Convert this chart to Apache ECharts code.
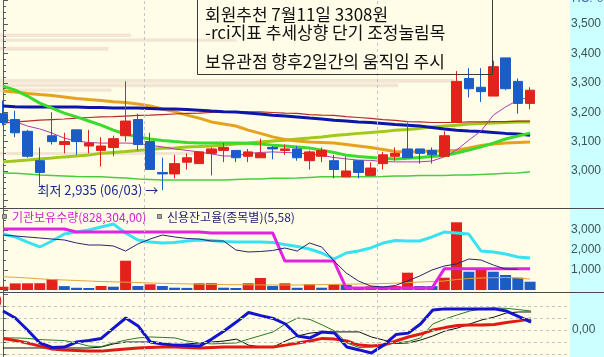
<!DOCTYPE html>
<html>
<head>
<meta charset="utf-8">
<script src="https://cdn.jsdelivr.net/npm/echarts@6/dist/echarts.min.js"></script>
<style>
html,body{margin:0;padding:0;background:#FFFDE8;}
#chart{width:604px;height:357px;}
</style>
</head>
<body>
<div id="chart"></div>
<script>
// ---------------- data ----------------
const opens  = [3195,3175,3135,3035,3120,3090,3140,3085,3070,3080,3120,3175,3100,2995,2990,3030,3025,3060,3070,3070,3050,3045,3080,3070,3075,3035,3050,3035,2980,3035,2985,3025,3050,3075,3075,3070,3050,3165,3315,3285,3255,3385,3305,3230];
const closes = [3165,3130,3050,2995,3100,3100,3100,3095,3085,3110,3170,3090,3005,2990,3025,3045,3065,3075,3080,3045,3065,3060,3075,3075,3045,3065,3070,3005,3000,2995,3010,3055,3060,3045,3060,3055,3120,3305,3280,3270,3355,3280,3230,3275];
const lows   = [3155,3115,3045,2950,3090,3060,3055,3060,3015,3050,3100,3070,3005,2935,2975,3005,3025,2985,3030,3030,3030,3045,3040,3055,3035,3005,3030,2975,2980,2975,2985,3005,3035,3045,3025,3025,3050,3165,3250,3235,3255,3275,3195,3210];
const highs  = [3240,3205,3140,3080,3200,3130,3140,3140,3115,3120,3305,3195,3130,3045,3055,3060,3065,3080,3095,3070,3075,3110,3085,3090,3085,3070,3080,3055,3050,3035,3030,3065,3080,3165,3075,3080,3135,3340,3350,3350,3375,3385,3315,3285];
const volumes = [165,330,335,340,550,195,110,100,200,165,1465,200,285,200,115,105,335,340,115,100,335,600,200,335,110,285,115,285,250,150,180,160,200,865,200,195,615,3385,915,1050,915,750,615,415];

// price moving averages
const maGreen   = [3289,3275,3255,3231,3214,3197,3184,3170,3156,3139,3126,3116,3109,3104,3100,3097,3095,3095,3095,3095,3094,3092,3088,3085,3082,3078,3071,3063,3054,3049,3046,3043,3041,3043,3046,3049,3053,3061,3071,3082,3095,3109,3119,3129];
const maOrange  = [3272,3269,3264,3260,3257,3252,3247,3243,3240,3236,3233,3228,3221,3211,3202,3190,3180,3167,3160,3153,3139,3128,3116,3107,3102,3099,3097,3095,3090,3085,3080,3073,3066,3065,3066,3068,3068,3071,3078,3087,3092,3095,3097,3099];
const maOlive   = [3031,3034,3037,3041,3044,3048,3051,3054,3060,3063,3066,3070,3073,3077,3078,3082,3083,3085,3088,3092,3095,3099,3102,3105,3109,3112,3116,3121,3124,3128,3131,3134,3139,3141,3145,3150,3153,3156,3160,3162,3163,3165,3167,3167];
const maNavy    = [3221,3219,3218,3218,3218,3218,3218,3216,3216,3214,3214,3214,3213,3211,3211,3209,3207,3204,3202,3201,3197,3194,3190,3187,3184,3180,3177,3173,3170,3167,3165,3162,3158,3156,3153,3148,3143,3139,3136,3134,3131,3128,3126,3122];
const maRed     = [3163,3167,3170,3173,3175,3177,3180,3182,3184,3185,3187,3189,3190,3192,3194,3196,3197,3199,3201,3201,3201,3201,3199,3197,3196,3192,3190,3189,3185,3182,3179,3175,3172,3168,3167,3165,3165,3165,3167,3167,3168,3168,3170,3170];
const maMagenta = [3177,3168,3153,3143,3129,3112,3102,3097,3095,3095,3095,3094,3088,3082,3075,3070,3065,3058,3051,3051,3060,3063,3065,3063,3061,3058,3053,3046,3041,3037,3036,3032,3031,3031,3031,3034,3048,3071,3105,3136,3190,3218,3241,3252];
const maLight   = [2993,2992,2990,2986,2985,2983,2981,2980,2980,2978,2976,2973,2971,2969,2969,2969,2969,2969,2969,2971,2973,2973,2975,2975,2976,2978,2980,2980,2980,2980,2980,2981,2983,2983,2985,2985,2985,2986,2986,2988,2990,2992,2993,2997];

// volume-by-price profile (price band low / high, share of width in %)
const profLow  = [3456,3440,3409,3300,3285,3270,3054];
const profHigh = [3468,3451,3423,3313,3298,3281,3065];
const profVol  = [23,41.6,19.1,79.8,70,19.6,36];

// middle panel indicators
const volMA      = [665,635,600,560,525,500,475,450,425,410,390,375,350,335,320,305,290,280,270,265,260,255,250,250,250,260,270,280,290,300,310,325,340,365,400,425,450,525,575,600,615,625,600,550];
const cyanLine   = [69.0,65.5,59.5,53.6,60.7,69.0,71.4,73.8,77.4,81.0,70.2,61.9,59.5,58.3,58.9,60.7,61.9,61.3,60.1,59.5,59.5,59.5,58.9,56.5,54.2,51.2,46.4,39.3,46.4,48.8,52.4,58.3,61.3,60.7,60.7,65.5,71.4,70.2,69.0,48.8,47.6,45.2,41.7,40.5];
const instHold   = [861.5,861.5,861.5,861.5,861.5,861.5,859.0,859.0,859.0,859.0,859.0,859.0,859.0,859.0,859.0,859.0,859.0,858.2,858.2,858.2,858.2,858.2,858.2,834.8,834.8,834.8,834.8,834.8,812.3,812.3,812.3,812.3,812.3,812.3,812.3,812.3,828.3,828.3,828.3,828.3,828.3,828.3,828.3,828.3];
const creditRate = [6.150,6.133,6.117,6.100,6.083,6.067,6.017,5.983,5.983,5.967,5.883,6.000,6.083,6.150,6.117,6.092,6.083,6.050,6.050,5.900,5.867,5.875,5.892,5.933,5.883,6.017,5.950,5.717,5.517,5.383,5.300,5.283,5.308,5.383,5.467,5.567,5.633,5.667,5.750,5.733,5.650,5.583,5.580,null];

// RCI panel
const rciBlue  = [79,50,0,-54,-73,-71,-50,-44,-35,8,50,17,-50,-58,-63,-65,-67,-38,-4,33,73,60,48,25,-25,-33,-8,-13,-71,-83,-96,-63,-19,-13,25,83,88,88,88,88,88,79,56,33];
const rciRed   = [-35,-44,-54,-67,-79,-83,-85,-88,-88,-83,-79,-75,-73,-71,-71,-73,-75,-73,-71,-71,-71,-71,-71,-63,-54,-46,-35,-38,-46,-63,-67,-63,-46,-29,-17,0,10,19,21,21,23,31,38,46];
const rciGreen = [-33,-33,-35,-40,-42,-44,-54,-67,-69,-54,-42,-33,-29,-31,-33,-46,-54,-58,-56,-54,-38,-23,-8,25,50,44,21,-4,-54,-73,-71,-63,-54,-48,-33,25,46,63,79,88,92,90,85,79];
const rciBlack = [-75,-75,-75,-75,-75,-75,-75,-75,-71,-58,-50,-50,-50,-56,-63,-58,-54,-50,-46,-38,-63,-71,-71,-46,-25,-13,-8,-8,-8,-8,-29,-42,-56,-54,-42,-25,-4,8,25,42,54,71,75,75];
const rciLevels = [-100,-50,0,50,100];

// month boundaries (index of first trading day of a new month)
const monthStarts = [12, 31];
const lowDate = '06/03';

// texts
const noteLines = ['회원추천 7월11일 3308원', '-rci지표 추세상향 단기 조정눌림목', '보유관점 향후2일간의 움직임 주시'];
const legendInst = '기관보유수량(828,304,00)';
const legendCredit = '신용잔고율(종목별)(5,58)';

// ---------------- chart ----------------
const KR = '"Noto Sans CJK KR", sans-serif';
const AX = '"Liberation Sans", Arial, sans-serif';
const fmt = v => String(Math.round(v)).replace(/\B(?=(\d{3})+(?!\d))/g, ',');
const pts = a => a.map((v, i) => [i, v]);
const N = closes.length;
const XMIN = -0.244, XMAX = 46.173;
const RED = '#E3221B', BLUE = '#1B5CC6';

let minIdx = 0;
lows.forEach((v, i) => { if (v < lows[minIdx]) minIdx = i; });
const last = closes[N - 1], prev = closes[N - 2];
const pct = ((last - prev) / prev * 100).toFixed(2).replace('.', ',') + '%';

const monthLines = {
  silent: true, symbol: ['none', 'none'], animation: false,
  label: { show: false },
  lineStyle: { color: '#C4C4C4', type: [3, 3], width: 1 },
  data: monthStarts.map(i => ({ xAxis: i - 0.5 }))
};

const axColor = '#4E5E5E';
const yBase = {
  position: 'right',
  axisLine: { show: true, lineStyle: { color: axColor, width: 1 } },
  axisTick: { show: true, length: 5, lineStyle: { color: axColor } },
  splitLine: { show: false },
  scale: true
};
const lbl = f => ({ color: '#3C5454', fontSize: 12, fontFamily: AX, margin: 2, formatter: f });

const line = (name, data, xi, yi, color, width, z) => ({
  name, type: 'line', xAxisIndex: xi, yAxisIndex: yi, data: pts(data),
  symbol: 'none', showSymbol: false, z, animation: false,
  lineStyle: { color, width }, connectNulls: false
});

const txt = (x, y, text, font, fill, va) => ({
  type: 'text', z: 21, x, y,
  style: { text, font, fill, textAlign: 'left', textVerticalAlign: va || 'middle', align: 'left', verticalAlign: va || 'middle' }
});

const chart = echarts.init(document.getElementById('chart'), null, { renderer: 'canvas' });

const option = {
  animation: false,
  backgroundColor: '#FFFDE8',
  grid: [
    { left: 0, top: 0, width: 570, height: 208 },
    { left: 0, top: 208, width: 570, height: 84 },
    { left: 0, top: 292, width: 570, height: 65 }
  ],
  xAxis: [0, 1, 2].map(g => ({ gridIndex: g, type: 'value', min: XMIN, max: XMAX, show: false }))
    .concat([{ gridIndex: 0, type: 'value', position: 'top', min: 0, max: 100, show: false }]),
  yAxis: [
    Object.assign({}, yBase, { gridIndex: 0, min: 2874, max: 3582,
      minorTick: { show: true, splitNumber: 5, length: 3, lineStyle: { color: axColor } },
      axisLabel: lbl(v => (v >= 3000 && v % 100 === 0) ? fmt(v) : '') }),
    Object.assign({}, yBase, { gridIndex: 1, min: -100, max: 4100,
      minorTick: { show: true, splitNumber: 2, length: 3, lineStyle: { color: axColor } },
      axisLabel: lbl(v => (v > 0 && v < 4000 && v % 1000 === 0) ? fmt(v) : '') }),
    { gridIndex: 1, min: 0, max: 100, show: false },
    { gridIndex: 1, min: 809, max: 879, show: false },
    { gridIndex: 1, min: 5.2, max: 6.6, show: false },
    Object.assign({}, yBase, { gridIndex: 2, min: -112.5, max: 158.33,
      axisLabel: lbl(v => v === 0 ? '0,00' : '') })
  ],
  series: [
    // ---- volume-by-price bands ----
    {
      name: 'profile', type: 'custom', xAxisIndex: 3, yAxisIndex: 0, z: 0, silent: true,
      encode: { x: 0, y: [1, 2] },
      data: profVol.map((v, i) => [v, profLow[i], profHigh[i]]),
      renderItem: (params, api) => {
        const a = api.coord([0, api.value(2)]);
        const b = api.coord([api.value(0), api.value(1)]);
        return { type: 'rect', shape: { x: a[0], y: a[1], width: b[0] - a[0], height: b[1] - a[1] }, style: { fill: '#F3E5D3' } };
      }
    },
    // ---- price panel ----
    Object.assign(line('maLight', maLight, 0, 0, '#4CCB3C', 1.5, 1), { markLine: monthLines }),
    line('maOlive', maOlive, 0, 0, '#A2C81A', 3, 2),
    line('maOrange', maOrange, 0, 0, '#E6A21E', 3, 2),
    line('maRed', maRed, 0, 0, '#B82A2A', 1.2, 2),
    line('maNavy', maNavy, 0, 0, '#0C16A8', 3, 2),
    line('maGreen', maGreen, 0, 0, '#3ADB2C', 3, 2),
    line('maMagenta', maMagenta, 0, 0, '#B03AB0', 1, 3),
    {
      name: 'price', type: 'candlestick', xAxisIndex: 0, yAxisIndex: 0, z: 5,
      barWidth: 10,
      encode: { x: 0, y: [1, 2, 3, 4] },
      data: closes.map((c, i) => [i, opens[i], c, lows[i], highs[i]]),
      itemStyle: { color: RED, color0: BLUE, borderColor: RED, borderColor0: BLUE, borderWidth: 1 },
      markPoint: {
        symbol: 'circle', symbolSize: 0, animation: false, silent: true,
        label: { show: true, position: 'left', distance: 4, color: '#1C2A8C', fontSize: 13, fontFamily: KR,
          formatter: () => '최저 ' + fmt(lows[minIdx]) + ' (' + lowDate + ') →' },
        data: [{ coord: [minIdx, lows[minIdx]] }]
      },
      markLine: {
        silent: true, symbol: ['none', 'none'], animation: false,
        data: [
          { yAxis: last, lineStyle: { opacity: 0 },
            label: { show: true, position: 'end', distance: 1, formatter: fmt(last), backgroundColor: RED,
              color: '#FFFFFF', padding: [1, 8, 0, 2], fontSize: 12, fontFamily: AX } },
          { yAxis: last, lineStyle: { opacity: 0 },
            label: { show: true, position: 'end', distance: 3, formatter: pct, color: RED,
              padding: [19, 0, 0, 0], fontSize: 12, fontFamily: AX } }
        ]
      }
    },
    // ---- volume / holdings panel ----
    {
      name: 'volume', type: 'bar', xAxisIndex: 1, yAxisIndex: 1, barWidth: 11, z: 1,
      data: volumes.map((v, i) => ({ value: [i, v], itemStyle: { color: (i === 0 || v >= volumes[i - 1]) ? RED : BLUE } })),
      markLine: monthLines
    },
    line('volMA', volMA, 1, 1, '#E2A43A', 1, 2),
    line('cyan', cyanLine, 1, 2, '#38E2F0', 3, 3),
    line(legendInst, instHold, 1, 3, '#E024E0', 3, 4),
    line(legendCredit, creditRate, 1, 4, '#24247A', 1, 5),
    // ---- RCI panel ----
    Object.assign(line('rciBlack', rciBlack, 2, 5, '#101010', 1, 1), {
      markLine: Object.assign({}, monthLines, {
        data: monthLines.data.concat(rciLevels.map(v => ({ yAxis: v })))
      })
    }),
    line('rciGreen', rciGreen, 2, 5, '#2A7A22', 1, 2),
    line('rciRed', rciRed, 2, 5, '#E21A14', 3, 3),
    line('rciBlue', rciBlue, 2, 5, '#1414CC', 3, 4)
  ],
  graphic: [
    { type: 'rect', z: -10, shape: { x: 570, y: 0, width: 34, height: 357 }, style: { fill: '#CCFFFF' } },
    { type: 'line', z: 20, shape: { x1: 0, y1: 208.5, x2: 604, y2: 208.5 }, style: { stroke: '#4A4A4A', lineWidth: 1 } },
    { type: 'line', z: 20, shape: { x1: 0, y1: 292.5, x2: 604, y2: 292.5 }, style: { stroke: '#4A4A4A', lineWidth: 1 } },
    { type: 'rect', z: 20, shape: { x: 197.5, y: -1, width: 295, height: 75.5 }, style: { fill: 'none', stroke: '#3A3A3A', lineWidth: 1 } },
    txt(205, 15, noteLines[0], '17px ' + KR, '#111'),
    txt(205, 33, noteLines[1], '17px ' + KR, '#111'),
    txt(205, 62, noteLines[2], '17px ' + KR, '#111'),
    // legend of middle panel
    { type: 'rect', z: 21, shape: { x: 2.5, y: 214.5, width: 4, height: 4 }, style: { fill: '#A8A8A8', stroke: '#6A6A6A', lineWidth: 1 } },
    txt(12, 217, legendInst, '12px ' + KR, '#D01ED0'),
    { type: 'rect', z: 21, shape: { x: 157.5, y: 214.5, width: 4, height: 4 }, style: { fill: '#A8A8A8', stroke: '#6A6A6A', lineWidth: 1 } },
    txt(167, 217, legendCredit, '12px ' + KR, '#22226E'),
    // clipped labels
    txt(-2, 301, ')', '12px ' + AX, '#C02020'),
    txt(572, 5, 'HC:-0,00', '12px ' + AX, '#4A66B8', 'bottom')
  ]
};
chart.setOption(option);
</script>
</body>
</html>
